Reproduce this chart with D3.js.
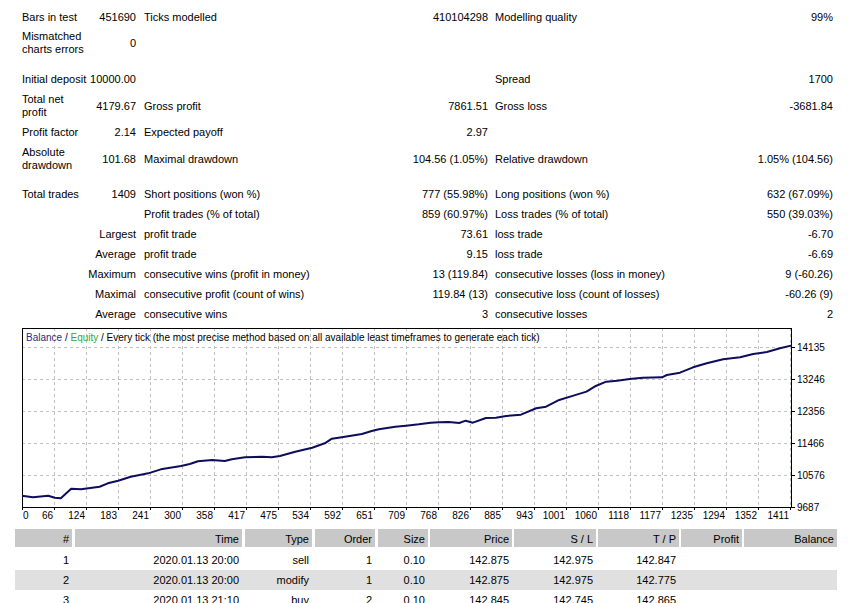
<!DOCTYPE html>
<html><head><meta charset="utf-8">
<script src="https://cdn.jsdelivr.net/npm/d3@7"></script>
<style>
html,body{margin:0;padding:0;background:#fff;}
svg{display:block;font-family:"Liberation Sans",Arial,sans-serif;}
</style></head>
<body>
<svg id="c" width="848" height="603"></svg>
<script>
// ---- Summary table rows: [label, value, label2, value2, label3, value3] ----
const summaryRows = [
  {l1:["Bars in test"], v1:"451690", l2:"Ticks modelled", v2:"410104298", l3:"Modelling quality", v3:"99%"},
  {l1:["Mismatched","charts errors"], v1:"0", l2:"", v2:"", l3:"", v3:""},
  {l1:["Initial deposit"], v1:"10000.00", l2:"", v2:"", l3:"Spread", v3:"1700"},
  {l1:["Total net","profit"], v1:"4179.67", l2:"Gross profit", v2:"7861.51", l3:"Gross loss", v3:"-3681.84"},
  {l1:["Profit factor"], v1:"2.14", l2:"Expected payoff", v2:"2.97", l3:"", v3:""},
  {l1:["Absolute","drawdown"], v1:"101.68", l2:"Maximal drawdown", v2:"104.56 (1.05%)", l3:"Relative drawdown", v3:"1.05% (104.56)"},
  {l1:["Total trades"], v1:"1409", l2:"Short positions (won %)", v2:"777 (55.98%)", l3:"Long positions (won %)", v3:"632 (67.09%)"},
  {l1:[""], v1:"", l2:"Profit trades (% of total)", v2:"859 (60.97%)", l3:"Loss trades (% of total)", v3:"550 (39.03%)"},
  {l1:[""], v1:"Largest", l2:"profit trade", v2:"73.61", l3:"loss trade", v3:"-6.70"},
  {l1:[""], v1:"Average", l2:"profit trade", v2:"9.15", l3:"loss trade", v3:"-6.69"},
  {l1:[""], v1:"Maximum", l2:"consecutive wins (profit in money)", v2:"13 (119.84)", l3:"consecutive losses (loss in money)", v3:"9 (-60.26)"},
  {l1:[""], v1:"Maximal", l2:"consecutive profit (count of wins)", v2:"119.84 (13)", l3:"consecutive loss (count of losses)", v3:"-60.26 (9)"},
  {l1:[""], v1:"Average", l2:"consecutive wins", v2:"3", l3:"consecutive losses", v3:"2"}
];
const rowCenters = [17, 43, 79, 106, 132, 159, 194, 214, 234, 254, 274, 294, 314];

// ---- Balance curve (trade number, balance) ----
const trades = [0,20,48,60,71,81,90,108,142,157,176,199,231,254,291,307,322,348,371,384,408,439,457,472,500,531,554,567,591,622,640,653,683,703,726,748,763,781,800,812,825,849,867,886,913,941,959,983,1009,1033,1050,1069,1089,1112,1136,1171,1180,1204,1228,1253,1283,1314,1338,1363,1387,1409];
const balance = [10000,9955,10000,9945,9930,10068,10195,10180,10250,10345,10418,10530,10623,10734,10827,10882,10957,10993,10965,11013,11068,11085,11068,11105,11224,11336,11458,11586,11642,11717,11800,11847,11920,11948,11986,12031,12042,12050,12023,12087,12031,12162,12170,12217,12254,12432,12477,12663,12783,12894,13052,13172,13198,13245,13282,13293,13357,13421,13570,13681,13793,13848,13940,13996,14099,14180];

const xTickLabels = ["0","66","124","183","241","300","358","417","475","534","592","651","709","768","826","885","943","1001","1060","1118","1177","1235","1294","1352","1411"];
const yTickValues = [9687,10576,11466,12356,13246,14135];

// ---- Trade table ----
const tradeHeaders = ["#","Time","Type","Order","Size","Price","S / L","T / P","Profit","Balance"];
const tradeRows = [
  ["1","2020.01.13 20:00","sell","1","0.10","142.875","142.975","142.847","",""],
  ["2","2020.01.13 20:00","modify","1","0.10","142.875","142.975","142.775","",""],
  ["3","2020.01.13 21:10","buy","2","0.10","142.845","142.745","142.865","",""]
];

const svg = d3.select("#c");
const F = 11;

// summary table
const cols = {l1:22, v1:136, l2:144, v2:488, l3:495, v3:833};
summaryRows.forEach((r,i)=>{
  const cy = rowCenters[i];
  const g = svg.append("g").attr("font-size",F).attr("fill","#000");
  if (r.l1.length===2){
    g.append("text").attr("x",cols.l1).attr("y",cy-6.5).attr("dy","0.35em").text(r.l1[0]);
    g.append("text").attr("x",cols.l1).attr("y",cy+6.5).attr("dy","0.35em").text(r.l1[1]);
  } else if (r.l1[0]) {
    g.append("text").attr("x",cols.l1).attr("y",cy).attr("dy","0.35em").text(r.l1[0]);
  }
  g.append("text").attr("x",cols.v1).attr("y",cy).attr("dy","0.35em").attr("text-anchor","end").text(r.v1);
  g.append("text").attr("x",cols.l2).attr("y",cy).attr("dy","0.35em").text(r.l2);
  g.append("text").attr("x",cols.v2).attr("y",cy).attr("dy","0.35em").attr("text-anchor","end").text(r.v2);
  g.append("text").attr("x",cols.l3).attr("y",cy).attr("dy","0.35em").text(r.l3);
  g.append("text").attr("x",cols.v3).attr("y",cy).attr("dy","0.35em").attr("text-anchor","end").text(r.v3);
});

// chart
const L=22, T=328, R=792, B=507;
const x = d3.scaleLinear().domain([0,1409]).range([L,R]);
const xi = d3.scaleLinear().domain([0,xTickLabels.length-1]).range([L,790]);
const y = d3.scaleLinear().domain([9687,14135]).range([B,347]);

const chart = svg.append("g");
chart.append("rect").attr("x",L).attr("y",T).attr("width",R-L).attr("height",B-T).attr("fill","#fff");
// vertical grid
chart.selectAll("line.vg").data(d3.range(1,xTickLabels.length)).join("line")
  .attr("x1",d=>xi(d)+0.5).attr("x2",d=>xi(d)+0.5).attr("y1",T).attr("y2",B)
  .attr("stroke","#c0c0c0").attr("stroke-dasharray","3,3");
// horizontal grid
chart.selectAll("line.hg").data(yTickValues.slice(1)).join("line")
  .attr("x1",L).attr("x2",R).attr("y1",d=>Math.round(y(d))+0.5).attr("y2",d=>Math.round(y(d))+0.5)
  .attr("stroke","#c0c0c0").attr("stroke-dasharray","3,3");
// border
chart.append("rect").attr("x",L+0.5).attr("y",T+0.5).attr("width",R-L-1).attr("height",B-T).attr("fill","none").attr("stroke","#000");

// title
const title = chart.append("text").attr("x",26).attr("y",337).attr("dy","0.35em").attr("font-size",10);
title.append("tspan").attr("fill","#2b2b80").text("Balance");
title.append("tspan").attr("fill","#000").text(" / ");
title.append("tspan").attr("fill","#33a833").text("Equity");
title.append("tspan").attr("fill","#000").text(" / Every tick (the most precise method based on all available least timeframes to generate each tick)");

// curve
const line = d3.line().x((d,i)=>x(trades[i])).y(d=>y(d));
chart.append("path").datum(balance).attr("d",line).attr("fill","none")
  .attr("stroke","#0d0d5c").attr("stroke-width",2).attr("stroke-linejoin","round");

// y axis
const yAxis = d3.axisRight(y).tickValues(yTickValues).tickSize(3).tickFormat(d3.format("d"));
const ya = chart.append("g").attr("transform",`translate(${R},0)`).call(yAxis);
ya.select(".domain").remove();
ya.selectAll("text").attr("font-size",10).attr("font-family","Liberation Sans, Arial, sans-serif").attr("x",5);

// x labels
chart.selectAll("text.xl").data(xTickLabels).join("text")
  .attr("x",(d,i)=> i===0 ? 23 : xi(i)-1)
  .attr("text-anchor",(d,i)=> i===0 ? "start" : "end")
  .attr("y",515).attr("dy","0.35em").attr("font-size",10).text(d=>d);
chart.selectAll("line.xt").data(d3.range(0,xTickLabels.length)).join("line")
  .attr("x1",d=>xi(d)+0.5).attr("x2",d=>xi(d)+0.5).attr("y1",B).attr("y2",B+3).attr("stroke","#000");

// trade table
const colEdges = [[15,72],[75,242],[245,312],[315,375],[378,428],[430,512],[514,596],[598,679],[681,742],[744,837]];
const hdr = svg.append("g");
hdr.selectAll("rect").data(colEdges).join("rect")
  .attr("x",d=>d[0]).attr("y",529).attr("width",d=>d[1]-d[0]).attr("height",18).attr("fill","#c8c8c8");
hdr.selectAll("text").data(tradeHeaders).join("text")
  .attr("x",(d,i)=>colEdges[i][1]-3).attr("y",539).attr("dy","0.35em").attr("text-anchor","end")
  .attr("font-size",F).text(d=>d);
tradeRows.forEach((row,r)=>{
  const cy = 560 + r*20;
  const g = svg.append("g");
  if (r%2===1) g.append("rect").attr("x",15).attr("y",cy-10).attr("width",822).attr("height",20).attr("fill","#e0e0e0");
  g.selectAll("text").data(row).join("text")
    .attr("x",(d,i)=>colEdges[i][1]-3).attr("y",cy).attr("dy","0.35em").attr("text-anchor","end")
    .attr("font-size",F).text(d=>d);
});
</script>
</body></html>
